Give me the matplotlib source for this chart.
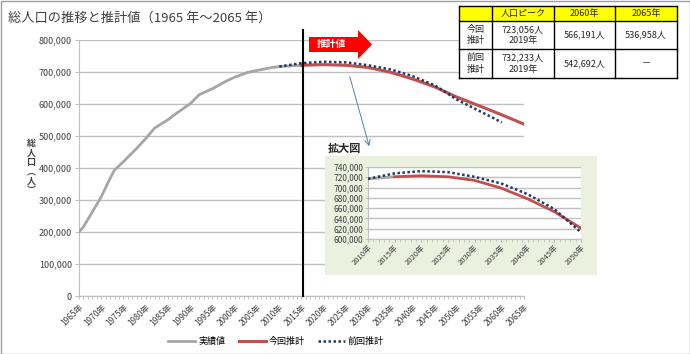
import numpy as np
import matplotlib
matplotlib.use("Agg")
import matplotlib.pyplot as plt
from matplotlib.patches import Rectangle, Polygon
from matplotlib.lines import Line2D

plt.rcParams['font.family'] = ['Noto Sans CJK JP', 'DejaVu Sans']

# 実績値
actual_years = [1965, 1966, 1968, 1970, 1972, 1973, 1975, 1978, 1980, 1982, 1985, 1987,
                1990, 1992, 1995, 1998, 2000, 2003, 2005, 2008, 2010, 2015]
actual_vals = [200000, 216000, 263000, 310000, 368000, 394000, 420000, 462000, 492000, 525000,
               551000, 572000, 601000, 629000, 648000, 671000, 684000, 699000, 705000, 713000,
               717000, 721000]

# 今回推計
current_years = [2015, 2020, 2025, 2030, 2035, 2040, 2045, 2050, 2055, 2060, 2065]
current_vals = [721000, 723000, 721000, 714000, 699000, 678000, 653000, 621000, 594000, 566191, 536958]

# 前回推計
previous_years = [2010, 2015, 2020, 2025, 2030, 2035, 2040, 2045, 2050, 2055, 2060]
previous_vals = [717000, 727600, 732000, 730000, 721000, 708000, 687000, 658000, 613000, 578000, 542692]

# 表
col_labels = ['', '人口ピーク', '2060年', '2065年']
row_labels = ['今回\n推計', '前回\n推計']
cell_text = [['723,056人\n2019年', '566,191人', '536,958人'],
             ['732,233人\n2019年', '542,692人', '－']]

gray = '#A6A6A6'
red = '#C0504D'
navy = '#1F3864'
grid = '#BFBFBF'
W, H = 690, 354

fig = plt.figure(figsize=(6.9, 3.54), dpi=100)

def fbox(x0, y0, x1, y1):
    # pixel box (top-left origin) -> figure fraction
    return [x0 / W, 1 - y1 / H, (x1 - x0) / W, (y1 - y0) / H]

# main chart
ax = fig.add_axes(fbox(79, 40, 524, 296))
ax.plot(actual_years, actual_vals, color=gray, lw=2, zorder=3)
ax.plot(current_years, current_vals, color=red, lw=2.2, zorder=3)
ax.plot(previous_years, previous_vals, color=navy, lw=1.8, ls=(0, (1, 1)), zorder=4)
ax.plot([2015.3, 2015.3], [0, 830000], color='black', lw=1.5, clip_on=False, zorder=5)
ax.set_xlim(1965, 2065)
ax.set_ylim(0, 800000)
ax.set_yticks(np.arange(0, 800001, 100000))
ax.set_yticklabels([f'{v:,}' for v in range(0, 800001, 100000)], fontsize=6.5, color='#404040')
ax.set_xticks(np.arange(1965, 2066, 5))
ax.set_xticklabels([f'{y}年' for y in range(1965, 2066, 5)], rotation=45, ha='right',
                   rotation_mode='anchor', fontsize=6, color='#404040')
ax.set_xticks(np.arange(1965, 2066, 1), minor=True)
ax.tick_params(axis='x', which='both', length=2.5, color=grid, pad=2)
ax.tick_params(axis='y', length=3, color=grid, pad=2)
ax.grid(axis='y', color=grid, lw=1)
for s in ['top', 'right']:
    ax.spines[s].set_visible(False)
for s in ['left', 'bottom']:
    ax.spines[s].set_color(grid)

# inset background + inset chart
bg = fig.add_axes(fbox(325, 156, 597, 275), zorder=2)
bg.set_facecolor('#EBF1DE')
bg.set_xticks([])
bg.set_yticks([])
for s in bg.spines.values():
    s.set_visible(False)

ins = fig.add_axes(fbox(368, 167, 581, 239), zorder=3)
ins.set_facecolor('white')
ins.plot(actual_years, actual_vals, color=gray, lw=2, zorder=3)
ins.plot(current_years, current_vals, color=red, lw=2, zorder=3)
ins.plot(previous_years, previous_vals, color=navy, lw=1.8, ls=(0, (1, 1)), zorder=4)
ins.set_xlim(2010, 2050)
ins.set_ylim(600000, 740000)
ins.set_yticks(np.arange(600000, 740001, 20000))
ins.set_yticklabels([f'{v:,}' for v in range(600000, 740001, 20000)], fontsize=6, color='#404040')
ins.set_xticks(np.arange(2010, 2051, 5))
ins.set_xticklabels([f'{y}年' for y in range(2010, 2051, 5)], rotation=45, ha='right',
                    rotation_mode='anchor', fontsize=5.5, color='#404040')
ins.set_xticks(np.arange(2010, 2051, 1), minor=True)
ins.tick_params(axis='both', which='both', length=2, color=grid, pad=1.5)
ins.grid(axis='y', color=grid, lw=1)
for s in ['top', 'right']:
    ins.spines[s].set_visible(False)
for s in ['left', 'bottom']:
    ins.spines[s].set_color(grid)

# overlay for texts, table, arrows
ov = fig.add_axes([0, 0, 1, 1], zorder=6)
ov.set_xlim(0, W)
ov.set_ylim(H, 0)
ov.axis('off')
ov.patch.set_alpha(0)

ov.add_patch(Rectangle((0.5, 0.5), W - 1, H - 1, fill=False, ec='#A0A0A0', lw=1))
ov.text(8, 18, '総人口の推移と推計値（1965 年～2065 年）', fontsize=9.5, color='#404040', va='center')
ov.text(31, 167, '総\n人\n口\n︵\n人\n︶', fontsize=6.5, color='#404040', ha='center', va='center',
        linespacing=1.05, fontweight='bold')
ov.text(328, 148, '拡大図', fontsize=8, fontweight='bold', color='#262626', va='center')

# 推計値 arrow
ov.add_patch(Polygon([(309, 37), (358, 37), (358, 30), (372, 44.5), (358, 59), (358, 52), (309, 52)],
                     closed=True, fc='#FF0000', ec='none'))
ov.text(331, 44.5, '推計値', fontsize=7, color='white', fontweight='bold', ha='center', va='center')

ov.annotate('', xy=(370, 149), xytext=(349, 74),
            arrowprops=dict(arrowstyle='->', color='#4F81BD', lw=0.7))

# table
cols_x = [459, 492, 554, 615, 677]
rows_y = [6, 21, 49, 78]
for j in range(1, 4):
    ov.add_patch(Rectangle((cols_x[j], rows_y[0]), cols_x[j + 1] - cols_x[j], rows_y[1] - rows_y[0],
                           fc='#FFFF00', ec='none'))
ov.add_patch(Rectangle((cols_x[0], rows_y[0]), cols_x[1] - cols_x[0], rows_y[1] - rows_y[0],
                       fc='#FFFF00', ec='none'))
ov.add_patch(Rectangle((cols_x[0], rows_y[1]), cols_x[-1] - cols_x[0], rows_y[-1] - rows_y[1],
                       fc='white', ec='none'))
for x in cols_x:
    ov.plot([x, x], [rows_y[0], rows_y[-1]], color='black', lw=1)
for y in rows_y:
    ov.plot([cols_x[0], cols_x[-1]], [y, y], color='black', lw=1)
for j, lab in enumerate(col_labels):
    ov.text((cols_x[j] + cols_x[j + 1]) / 2, (rows_y[0] + rows_y[1]) / 2, lab,
            fontsize=6.5, ha='center', va='center', color='#262626')
for i in range(2):
    yc = (rows_y[i + 1] + rows_y[i + 2]) / 2
    ov.text((cols_x[0] + cols_x[1]) / 2, yc, row_labels[i], fontsize=6.5, ha='center', va='center',
            color='#262626', linespacing=1.3)
    for j in range(3):
        ov.text((cols_x[j + 1] + cols_x[j + 2]) / 2, yc, cell_text[i][j], fontsize=6.5,
                ha='center', va='center', color='#262626', linespacing=1.3)

# legend
handles = [Line2D([], [], color=gray, lw=2),
           Line2D([], [], color=red, lw=2.2),
           Line2D([], [], color=navy, lw=1.8, ls=(0, (1, 1)))]
fig.legend(handles, ['実績値', '今回推計', '前回推計'], loc='center', bbox_to_anchor=(0.40, 0.035),
           ncol=3, frameon=False, fontsize=6.5, handlelength=3, columnspacing=1.5, handletextpad=0.3)

fig.savefig('out.png', dpi=100)
